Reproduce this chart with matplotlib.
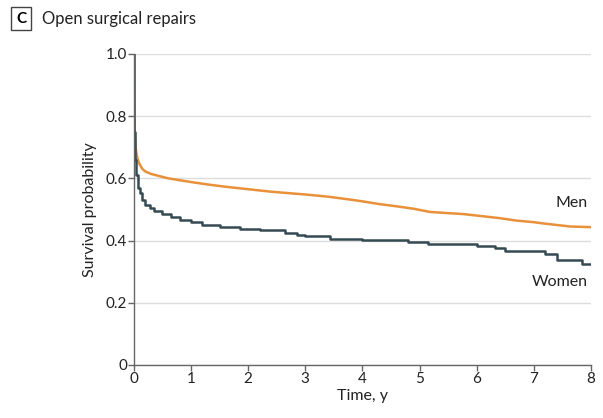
import numpy as np
import matplotlib.pyplot as plt

plt.rcParams['font.family'] = ['Lato', 'DejaVu Sans']

# Kaplan-Meier curves
men_t = [0, 0.005, 0.01, 0.02, 0.03, 0.05, 0.07, 0.1, 0.15, 0.2, 0.3, 0.45, 0.6, 0.8,
         1.0, 1.3, 1.6, 2.0, 2.4, 2.73, 3.0, 3.4, 3.73, 4.0, 4.3, 4.6, 4.9, 5.18,
         5.5, 5.77, 6.06, 6.4, 6.7, 7.0, 7.16, 7.4, 7.64, 8.0]
men_s = [1.0, 0.86, 0.78, 0.73, 0.70, 0.675, 0.66, 0.645, 0.63, 0.622, 0.614, 0.607,
         0.600, 0.594, 0.588, 0.580, 0.573, 0.565, 0.557, 0.552, 0.548, 0.541, 0.533,
         0.526, 0.517, 0.510, 0.502, 0.492, 0.488, 0.485, 0.479, 0.472, 0.464, 0.459,
         0.455, 0.450, 0.445, 0.443]

women_t = [0, 0.005, 0.01, 0.02, 0.04, 0.07, 0.1, 0.15, 0.2, 0.28, 0.35, 0.5, 0.65, 0.8,
           1.0, 1.2, 1.5, 1.86, 2.2, 2.64, 2.85, 3.0, 3.43, 4.0, 4.8, 5.15, 6.0, 6.32,
           6.5, 7.2, 7.4, 7.85, 8.0]
women_s = [1.0, 0.85, 0.75, 0.66, 0.61, 0.57, 0.553, 0.53, 0.515, 0.505, 0.495, 0.485,
           0.475, 0.466, 0.458, 0.450, 0.445, 0.437, 0.434, 0.423, 0.418, 0.413, 0.405,
           0.401, 0.395, 0.39, 0.383, 0.375, 0.367, 0.357, 0.338, 0.325, 0.325]

x_ticks = [0, 1, 2, 3, 4, 5, 6, 7, 8]
y_ticks = [0, 0.2, 0.4, 0.6, 0.8, 1.0]
y_labels = ['0', '0.2', '0.4', '0.6', '0.8', '1.0']

men_color = '#E8913A'
women_color = '#354A52'

fig = plt.figure(figsize=(6.03, 4.18), dpi=100)
ax = fig.add_axes([0.222, 0.127, 0.758, 0.744])

# men curve has many tiny steps, so it reads as a smooth line
ax.plot(men_t, men_s, color=men_color, lw=1.8)
ax.plot(women_t, women_s, drawstyle='steps-post', color=women_color, lw=1.8)

ax.set_xlim(0, 8)
ax.set_ylim(0, 1.0)
ax.set_xticks(x_ticks)
ax.set_yticks(y_ticks)
ax.set_yticklabels(y_labels)
ax.yaxis.grid(True, color='#DDDDDD', lw=1)
ax.set_axisbelow(True)
for s in ['top', 'right']:
    ax.spines[s].set_visible(False)
for s in ['left', 'bottom']:
    ax.spines[s].set_color('#666666')
    ax.spines[s].set_linewidth(1)
ax.tick_params(direction='out', length=4, width=1, color='#666666',
               labelsize=11, labelcolor='#222222', pad=1)
ax.set_xlabel('Time, y', fontsize=11.5, labelpad=2, color='#222222')
ax.set_ylabel('Survival probability', fontsize=11.5, labelpad=6, color='#222222')

ax.text(7.95, 0.52, 'Men', ha='right', va='center', fontsize=11.5, color='#222222')
ax.text(7.95, 0.267, 'Women', ha='right', va='center', fontsize=11.5, color='#222222')

# panel title
fig.text(0.035, 0.955, 'C', fontsize=11, fontweight='bold', ha='center', va='center',
         bbox=dict(boxstyle='square,pad=0.3', fc='white', ec='#444444', lw=1))
fig.text(0.07, 0.955, 'Open surgical repairs', fontsize=12, ha='left', va='center',
         color='#222222')

fig.savefig('out.png', dpi=100)
